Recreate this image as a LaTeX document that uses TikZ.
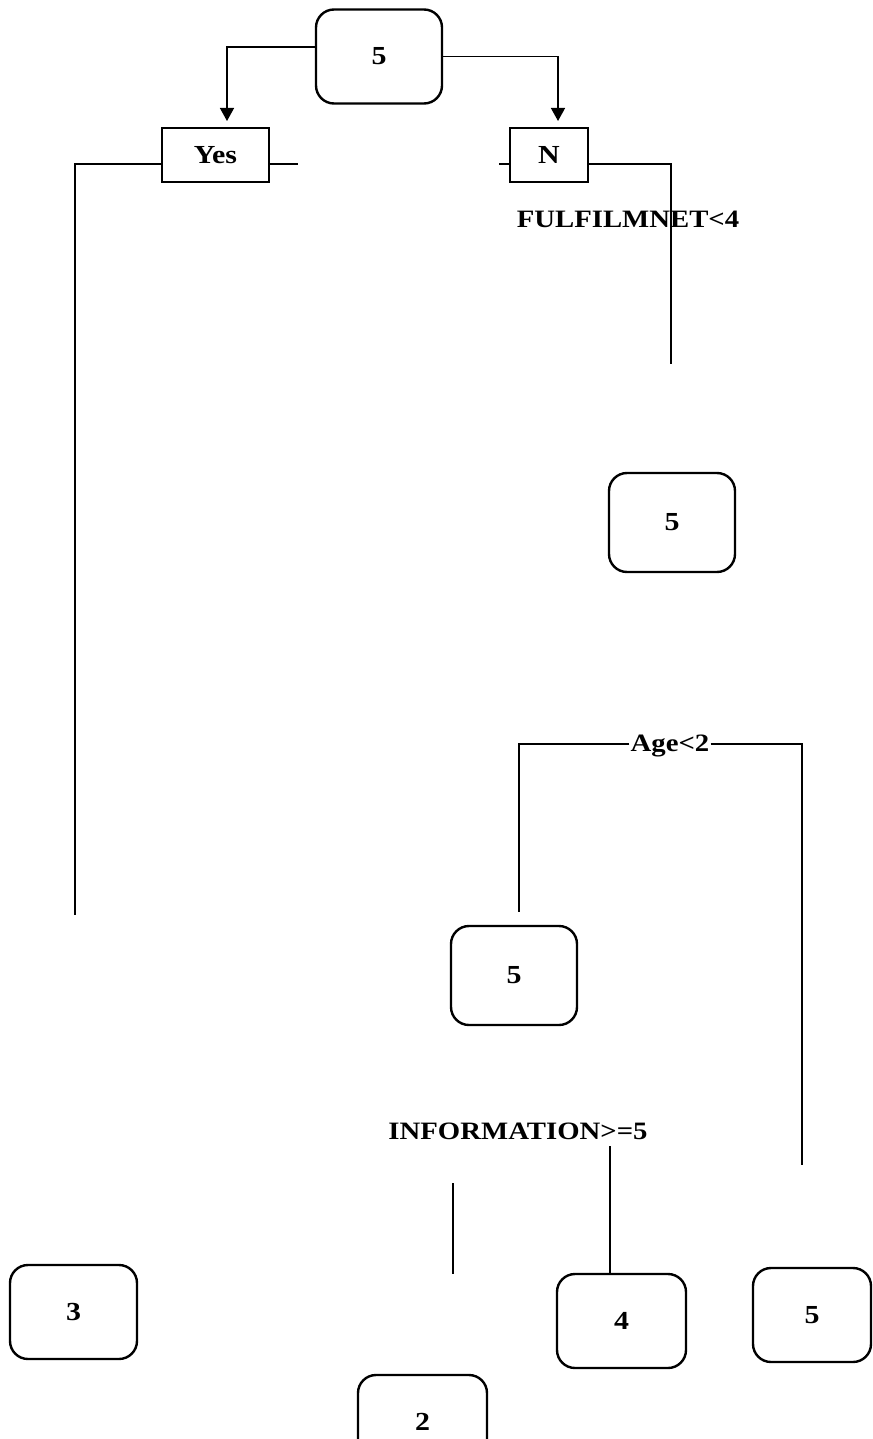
\documentclass[tikz,border=0pt]{standalone}
\usepackage{fontspec}
\setmainfont{Liberation Serif}[FakeStretch=1.15]
\usetikzlibrary{arrows.meta,positioning}

\begin{document}
\begin{tikzpicture}[
  x=1pt, y=-1pt,
  leaf/.style={rectangle, draw, line width=2.4pt, rounded corners=18pt,
    minimum width=126pt, minimum height=94pt,
    font=\fontsize{26}{30}\selectfont\bfseries},
  answer/.style={rectangle, draw, line width=1.3pt, minimum height=54pt,
    font=\fontsize{26}{30}\selectfont\bfseries},
  cond/.style={anchor=base, inner sep=1pt,
    font=\fontsize{25}{30}\selectfont\bfseries},
  wire/.style={line width=1.4pt},
  arr/.style={wire, -{Triangle[length=13pt,width=14pt]}}
]
  \useasboundingbox (0,0) rectangle (872,1439);
  \clip (0,0) rectangle (872,1439);
  % root and first split
  \node[leaf] (root) at (379,56.5) {5};
  \node[answer, minimum width=107pt] (yes) at (215.5,155) {Yes};
  \node[answer, minimum width=78pt] (no) at (549,155) {N};
  \coordinate (yesIn) at (227,121);
  \coordinate (noIn) at (558,121);
  \draw[arr] ([yshift=9.5pt]root.west) -| (yesIn);
  \draw[arr] (root.east) -| (noIn);
  %
  \coordinate (yesL) at (75,164);
  \coordinate (yesLend) at (75,915);
  \coordinate (yesR) at (298,164);
  \coordinate (noL) at (499,164);
  \coordinate (noR) at (671,164);
  \coordinate (noRend) at (671,364);
  \draw[wire] (yes.west |- yesL) -- (yesL) -- (yesLend);
  \draw[wire] (yes.east |- yesR) -- (yesR);
  \draw[wire] (no.west |- noL) -- (noL);
  \draw[wire] (no.east |- noR) -- (noR) -- (noRend);
  \node[cond] (fulfil) at (628,228) {FULFILMNET<4};
  % second level
  \node[leaf, minimum height=99pt] (mid1) at (672,522.5) {5};
  \node[cond] (age) at (670,751) {Age<2};
  \coordinate (ageL) at (519,744);
  \coordinate (ageLend) at (519,912);
  \coordinate (ageR) at (802,744);
  \coordinate (ageRend) at (802,1165);
  \draw[wire] (age.west |- ageL) -- (ageL) -- (ageLend);
  \draw[wire] (age.east |- ageR) -- (ageR) -- (ageRend);
  \node[leaf, minimum height=99pt] (mid2) at (514,975.5) {5};
  \node[cond] (info) at (518,1139) {INFORMATION>=5};
  % leaves
  \node[leaf, minimum width=127pt] (leaf3) at (73.5,1312) {3};
  \node[leaf, minimum width=129pt] (leaf2) at (422.5,1422) {2};
  \node[leaf, minimum width=129pt] (leaf4) at (621.5,1321) {4};
  \node[leaf, minimum width=118pt] (leaf5) at (812,1315) {5};
  \coordinate (infoR) at (610,1146);
  \coordinate (infoL) at (453,1183);
  \coordinate (infoLend) at (453,1274);
  \draw[wire] (infoR) -- (infoR |- leaf4.north);
  \draw[wire] (infoL) -- (infoLend);
\end{tikzpicture}
\end{document}
